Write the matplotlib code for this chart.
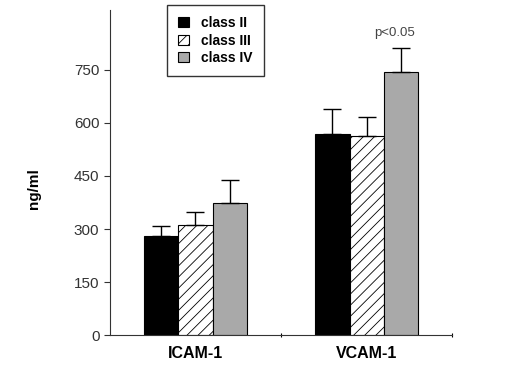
import matplotlib.pyplot as plt
import numpy as np

plt.rcParams['font.family'] = ['Liberation Sans', 'DejaVu Sans']
plt.rcParams['hatch.linewidth'] = 0.6

groups = ['ICAM-1', 'VCAM-1']
classes = ['class II', 'class III', 'class IV']
means = {
    'class II': [279, 568],
    'class III': [312, 562],
    'class IV': [374, 743],
}
errors = {
    'class II': [29, 71],
    'class III': [35, 54],
    'class IV': [66, 69],
}
yticks = [0, 150, 300, 450, 600, 750]

colors = ['black', 'white', '#a9a9a9']
hatches = [None, '///', None]

fig = plt.figure(figsize=(5.11, 3.65), dpi=100)
ax = fig.add_axes([0.215, 0.082, 0.67, 0.891])

x = np.array([0.5, 1.5])
w = 0.2
handles = []
for i, c in enumerate(classes):
    err = np.array(errors[c])
    b = ax.bar(x + (i - 1) * w, means[c], w, color=colors[i], edgecolor='black',
               hatch=hatches[i], linewidth=0.8, label=c,
               yerr=[np.zeros_like(err), err], capsize=6.5,
               error_kw=dict(ecolor='black', elinewidth=1, capthick=1))
    handles.append(b)

ax.set_xlim(0, 2)
ax.set_ylim(0, 920)
ax.set_yticks(yticks)
ax.set_xticks([1, 2])
ax.set_xticklabels(['', ''])
ax.tick_params(axis='y', labelsize=11, length=4, direction='out', colors='#333333')
ax.tick_params(axis='x', length=3, direction='inout')
for i, g in enumerate(groups):
    ax.text(x[i], -30, g, ha='center', va='top', fontsize=11.5, fontweight='bold')

ax.spines['top'].set_visible(False)
ax.spines['right'].set_visible(False)
ax.spines['left'].set_color('#333333')
ax.spines['bottom'].set_color('#333333')

ax.set_ylabel('ng/ml', fontsize=11, fontweight='bold')
ax.yaxis.set_label_coords(-0.2, 0.45)

ax.text(x[1] + 0.165, 812 + 25, 'p<0.05', ha='center', va='bottom', fontsize=9.5, color='#444444')

leg = fig.legend(handles=handles, labels=classes, loc='upper left',
                 bbox_to_anchor=(167 / 511, 1 - 5 / 365),
                 prop={'weight': 'bold', 'size': 10}, fancybox=False,
                 edgecolor='black', handlelength=0.75, handleheight=0.75,
                 handletextpad=0.9, labelspacing=0.25, borderpad=0.7,
                 borderaxespad=0)
leg.get_frame().set_linewidth(1)
# a bit more room on the left and right, as in the original box
leg._legend_box.pad = 8
leg._legend_handle_box.align = 'baseline'

fig.savefig('out.png', dpi=100)
